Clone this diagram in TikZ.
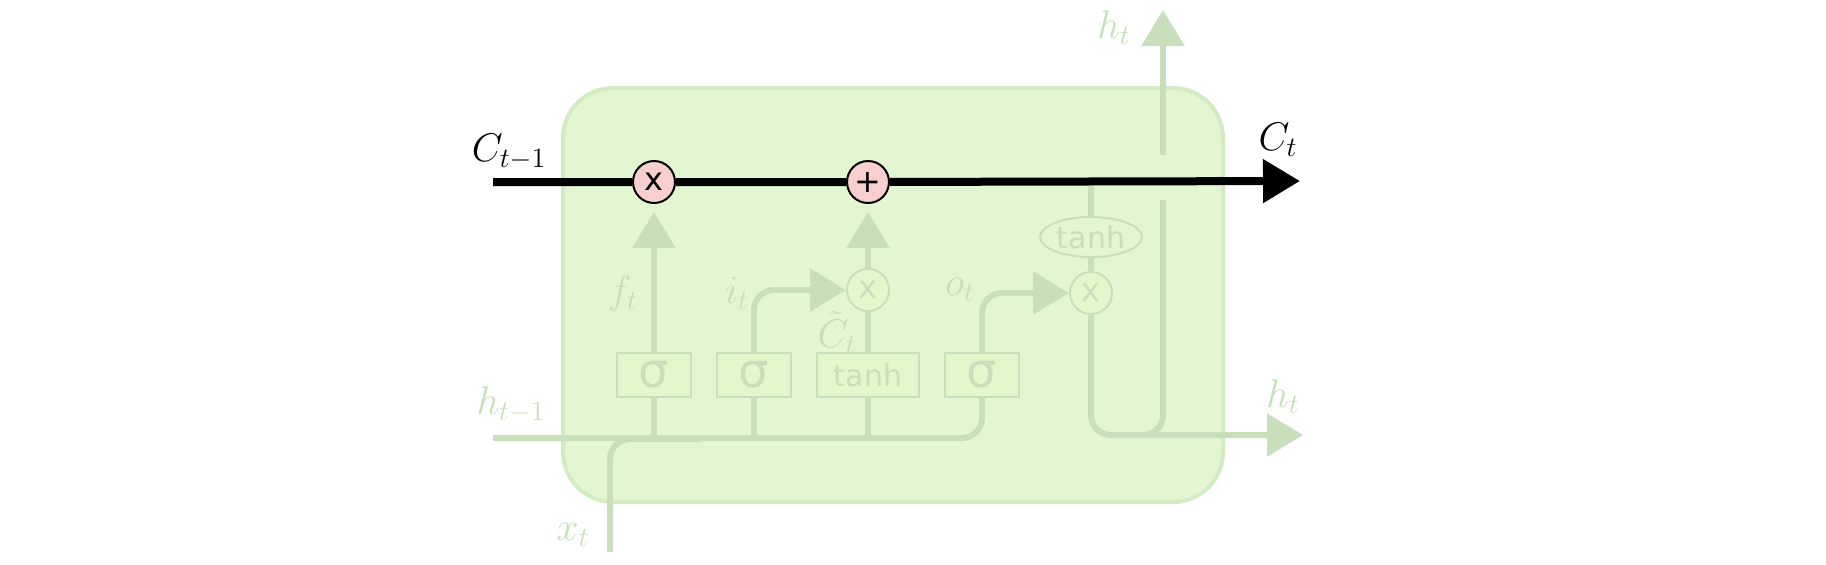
\RequirePackage{fix-cm}
\documentclass[tikz,border=0pt]{standalone}
\usepackage{fontspec}
\newfontfamily\gatefont{DejaVu Sans}
\usepackage{tikz}
\usetikzlibrary{
  arrows.meta,
  positioning,
  shapes.geometric
}
\definecolor{cellfill}{HTML}{E2F6D2}
\definecolor{celledge}{HTML}{D3EBC3}
\definecolor{fadeline}{HTML}{C8DFBC}
\definecolor{fadetext}{HTML}{C6E0B6}
\definecolor{gatefill}{HTML}{E4F6CC}
\definecolor{opfill}{HTML}{F8CFCF}
\tikzset{
  cellbox/.style={
    rectangle, rounded corners=25pt, draw=celledge, fill=cellfill,
    line width=2pt, minimum width=330pt, minimum height=207pt
  },
  gatebox/.style={
    rectangle, draw=fadeline, fill=gatefill, line width=1pt,
    minimum width=#1, minimum height=22pt, inner sep=0pt,
    text=fadeline, font=\gatefont\fontsize{15}{15}\selectfont
  },
  gatebox/.default=37pt,
  opnode/.style={
    circle, draw=black, fill=opfill, line width=1pt,
    minimum size=21pt, inner sep=0pt,
    font=\gatefont\fontsize{16}{16}\selectfont
  },
  fadeop/.style={
    circle, draw=fadeline, fill=gatefill, line width=1pt,
    minimum size=21pt, inner sep=0pt, text=fadeline,
    font=\gatefont\fontsize{16}{16}\selectfont
  },
  squashnode/.style={
    ellipse, draw=fadeline, fill=cellfill, line width=1pt,
    minimum width=51pt, minimum height=20pt, inner sep=0pt,
    text=fadeline, font=\gatefont\fontsize{15}{15}\selectfont
  },
  fadeflow/.style={
    line width=3pt, draw=fadeline, rounded corners=10pt
  },
  fadearrow/.style={
    fadeflow, -{Triangle[length=18pt,width=21pt]}
  },
  statearrow/.style={
    line width=4pt, draw=black, -{Triangle[length=18.5pt,width=21pt]}
  },
  fadelabel/.style={
    text=fadetext, font=\fontsize{20}{20}\selectfont, inner sep=0pt
  },
  statelabel/.style={
    font=\fontsize{20}{20}\selectfont
  },
}
\newcommand{\sig}{{\fontsize{24}{24}\selectfont σ}}

\begin{document}
\begin{tikzpicture}[x=0.5pt, y=-0.5pt]
  \useasboundingbox (0,0) rectangle (1826,564);

  \coordinate (cin)    at (493,182);
  \coordinate (cout)   at (1300,181);
  \coordinate (hin)    at (493,438);
  \coordinate (xin)    at (610,552);
  \coordinate (hout)   at (1303,435);
  \coordinate (hsplit) at (1163,200);
  \coordinate (hup)    at (1163,155);
  \coordinate (htop)   at (1163,10);

  % cell body
  \node[cellbox] (cell) at (893,295) {};

  % gate layers
  \node[gatebox] (fgate) at (654,375) {\sig};
  \node[gatebox, right=12pt of fgate] (igate) {\sig};
  \node[gatebox=51pt, right=12pt of igate] (cgate) {tanh};
  \node[gatebox, right=12pt of cgate] (ogate) {\sig};

  % pointwise operations
  \node[opnode] (forget) at (fgate |- cin) {x};
  \node[fadeop] (inmul) at (cgate |- 0,290) {x};
  \node[opnode] (update) at (inmul |- cin) {+};
  \node[fadeop] (outmul) at (1091,293) {x};
  \node[squashnode] (squash) at (1091,237) {tanh};

  % hidden state and input
  \draw[fadeflow] (hin) -- (ogate.south |- hin) -- (ogate.south);
  \draw[fadeflow] (xin) -- (610,439) -- (700,439);
  \draw[fadeflow] (fgate.south |- hin) -- (fgate.south);
  \draw[fadeflow] (igate.south |- hin) -- (igate.south);
  \draw[fadeflow] (cgate.south |- hin) -- (cgate.south);

  % gate outputs
  \draw[fadearrow, shorten >=4pt] (fgate.north) -- (forget.south);
  \draw[fadearrow] (igate.north) -- (igate.north |- inmul) -- (inmul.west);
  \draw[fadeflow] (cgate.north) -- (inmul.south);
  \draw[fadearrow, shorten >=4pt] (inmul.north) -- (update.south);
  \draw[fadearrow] (ogate.north) -- (ogate.north |- outmul) -- (outmul.west);

  % output
  \draw[fadeflow] (squash.north) -- (squash.north |- cin);
  \draw[fadeflow] (squash.south) -- (outmul.north);
  \draw[fadearrow] (outmul.south) -- (outmul.south |- hout) -- (hout);
  \draw[fadeflow] (hsplit) -- (hsplit |- hout) -- (1143,435);
  \draw[fadearrow] (hup) -- (htop);

  % cell state
  \draw[statearrow] (cin) -- (forget) -- (update) -- (cout);

  % labels
  \node[statelabel] (lcin)  at (509,152) {$C_{t-1}$};
  \node[statelabel] (lcout) at (1278,140) {$C_t$};
  \node[fadelabel] (lhtop)  at (1114,28) {$h_t$};
  \node[fadelabel] (lhin)   at (511,405) {$h_{t-1}$};
  \node[fadelabel] (lxin)   at (573,535) {$x_t$};
  \node[fadelabel] (lf)     at (623,293) {$f_t$};
  \node[fadelabel] (li)     at (737,293) {$i_t$};
  \node[fadelabel] (lc)     at (837,332) {$\tilde{C}_t$};
  \node[fadelabel] (lo)     at (960,290) {$o_t$};
  \node[fadelabel] (lhout)  at (1283,397) {$h_t$};
\end{tikzpicture}
\end{document}
